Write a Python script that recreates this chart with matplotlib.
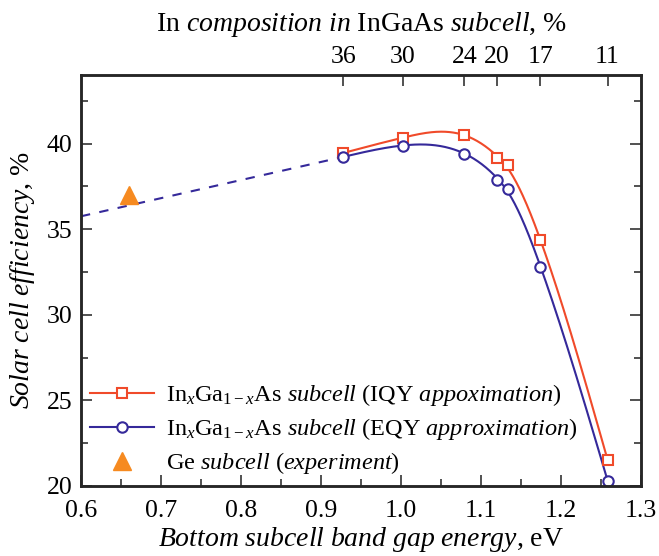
import numpy as np
from matplotlib import pyplot as plt
from matplotlib.ticker import MultipleLocator, FormatStrFormatter

plt.rcParams['font.family'] = 'Liberation Serif'
plt.rcParams['mathtext.fontset'] = 'custom'
plt.rcParams['mathtext.rm'] = 'Liberation Serif'
plt.rcParams['mathtext.it'] = 'Liberation Serif:italic'

# band gap of the bottom subcell, eV
gap = [0.928, 1.002, 1.079, 1.120, 1.133, 1.174, 1.258]
eff_iqy = [39.45, 40.33, 40.49, 39.14, 38.73, 34.36, 21.53]
eff_eqy = [39.22, 39.88, 39.41, 37.87, 37.36, 32.81, 20.32]

# Ge subcell experiment
ge_gap = [0.66]
ge_eff = [37.0]

# dashed extrapolation of the EQY curve
extrap_gap = [0.6, 0.928]
extrap_eff = [35.75, 39.22]

# top axis: In composition
comp_labels = ["36", "30", "24", "20", "17", "11"]
comp_gap = [gap[i] for i in (0, 1, 2, 3, 5, 6)]

red = "#f04a2a"
blue = "#35299a"
orange = "#f68a20"


def smooth(x, y, lam=1e-6, n=331):
    # penalised least squares on a fine grid (smoothing spline-ish)
    grid = np.linspace(x[0], x[-1], n)
    h = grid[1] - grid[0]
    W = np.zeros((len(x), n))
    for k, xv in enumerate(x):
        i = min(int((xv - grid[0]) / h), n - 2)
        t = (xv - grid[i]) / h
        W[k, i] = 1 - t
        W[k, i + 1] = t
    D = np.diff(np.eye(n), 2, axis=0) / h**2
    A = W.T @ W + lam * h * D.T @ D
    return grid, np.linalg.solve(A, W.T @ np.asarray(y))


fig = plt.figure(figsize=(6.59, 5.56), dpi=100)
ax = fig.add_axes([0.1229, 0.1259, 0.85, 0.7392])

gx, gy = smooth(gap, eff_iqy)
ax.plot(gx, gy, color=red, lw=1.5)
gx, gy = smooth(gap, eff_eqy)
ax.plot(gx, gy, color=blue, lw=1.5)
ax.plot(extrap_gap, extrap_eff, color=blue, lw=1.5, ls=(0, (4.5, 4.5)))

ax.plot(gap, eff_iqy, ls="none", marker="s", ms=7.5, mfc="white", mec=red, mew=1.5)
ax.plot(gap, eff_eqy, ls="none", marker="o", ms=7.5, mfc="white", mec=blue, mew=1.5)
ax.plot(ge_gap, ge_eff, ls="none", marker="^", ms=13, color=orange)

# legend handles
ax.plot([], [], color=red, lw=1.5, marker="s", ms=7.5, mfc="white", mec=red, mew=1.5,
        label=r"In$_x$Ga$_{1-x}$As $\mathit{subcell}$ (IQY $\mathit{appoximation}$)")
ax.plot([], [], color=blue, lw=1.5, marker="o", ms=7.5, mfc="white", mec=blue, mew=1.5,
        label=r"In$_x$Ga$_{1-x}$As $\mathit{subcell}$ (EQY $\mathit{approximation}$)")
ax.plot([], [], ls="none", marker="^", ms=13, color=orange,
        label=r"Ge $\mathit{subcell}$ ($\mathit{experiment}$)")
h, l = ax.get_legend_handles_labels()
ax.legend(h[-3:], l[-3:], loc="lower left", frameon=False, fontsize=17.5,
          handlelength=2.6, handletextpad=0.5, labelspacing=0.33,
          borderaxespad=0.1, bbox_to_anchor=(-0.005, -0.006))

ax.set_xlim(0.6, 1.3)
ax.set_ylim(20, 44)
ax.xaxis.set_major_locator(MultipleLocator(0.1))
ax.xaxis.set_minor_locator(MultipleLocator(0.05))
ax.xaxis.set_major_formatter(FormatStrFormatter("%.1f"))
ax.yaxis.set_major_locator(MultipleLocator(5))
ax.yaxis.set_minor_locator(MultipleLocator(2.5))
ax.tick_params(which="both", direction="in", right=True, top=False,
               labelsize=18.5, width=1.2, color="#333333")
ax.tick_params(which="major", length=8)
ax.tick_params(which="minor", length=5)
ax.tick_params(axis="x", pad=10)
ax.tick_params(axis="y", pad=6)

for s in ax.spines.values():
    s.set_linewidth(1.8)
    s.set_color("#262626")

ax.set_xlabel(r"$\mathit{Bottom\ subcell\ band\ gap\ energy}$, eV", fontsize=20, labelpad=2)
ax.set_ylabel(r"$\mathit{Solar\ cell\ efficiency}$, %", fontsize=20, labelpad=7)

top = ax.twiny()
top.set_xlim(ax.get_xlim())
top.set_xticks(comp_gap)
top.set_xticklabels(comp_labels)
top.tick_params(direction="in", length=8, width=1.2, labelsize=18.5, color="#333333", pad=5)
top.set_xlabel(r"In $\mathit{composition\ in}$ InGaAs $\mathit{subcell}$, %", fontsize=20, labelpad=11)
for s in top.spines.values():
    s.set_linewidth(1.8)
    s.set_color("#262626")

fig.savefig("out.png", dpi=100)
